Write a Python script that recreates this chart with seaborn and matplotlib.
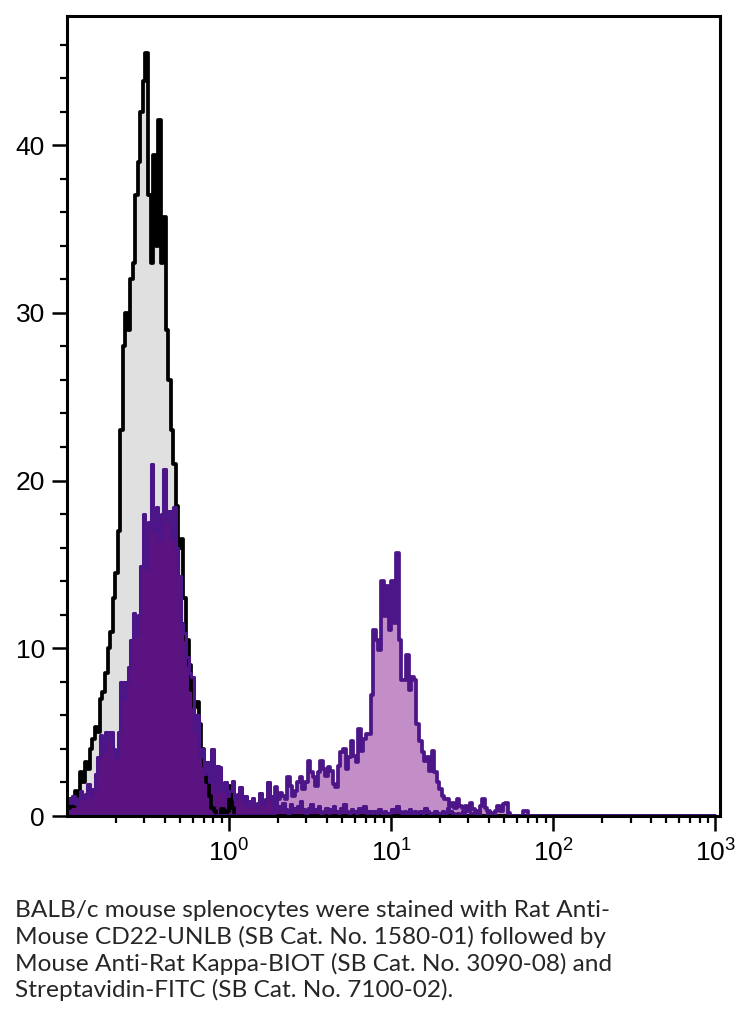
import numpy as np
import seaborn as sns
import matplotlib.pyplot as plt
from matplotlib.ticker import MultipleLocator, LogLocator, NullFormatter

# flow histogram, 256 channels over 4 decades (10^-1 .. 10^3)
n_channels = 256
per_decade = 64

# unstained / control (grey, black outline), from channel 0
control_counts = [
    0.5, 1.0, 0.6, 1.5, 1.2, 2.6, 2.0, 3.2, 2.8, 4.0,
    4.6, 5.3, 5.0, 7.0, 7.4, 8.5, 10.0, 11.0, 13.0, 14.5,
    17.0, 23.0, 28.0, 30.0, 29.0, 32.0, 33.0, 37.0, 39.0, 42.0,
    43.8, 45.5, 37.0, 33.0, 39.4, 34.0, 41.5, 33.0, 35.7, 29.0,
    26.0, 23.0, 21.0, 18.5, 16.0, 16.5, 13.0, 10.5, 9.0, 7.5,
    6.5, 6.8, 5.5, 4.0, 3.0, 2.0, 1.2, 0.5, 0.3, 0.0,
    0.0, 0.4, 0.0, 0.3, 1.8, 0.5, 0.0,
]

# CD22 negative population (dark purple), from channel 0
neg_counts = [
    1.0, 0.8, 1.2, 0.7, 1.0, 1.5, 1.1, 1.3, 1.9, 1.2,
    1.6, 2.5, 3.5, 4.8, 3.8, 5.0, 4.6, 5.0, 4.0, 3.5,
    5.0, 8.0, 7.0, 8.0, 8.9, 10.5, 12.1, 10.8, 12.0, 14.9,
    18.0, 14.8, 17.5, 21.0, 17.0, 18.4, 16.5, 18.0, 20.7, 17.5,
    18.2, 16.5, 18.4, 16.0, 14.3, 11.5, 10.9, 9.5, 8.5, 8.3,
    5.0, 6.0, 3.5, 4.0, 2.5, 3.2, 2.0, 4.0, 1.5, 3.0,
    2.9, 1.5, 2.0, 1.2, 1.5, 2.1, 1.0, 1.3, 1.7, 0.8,
    1.2, 0.6, 0.9, 1.1, 0.5, 0.8, 1.4, 0.7, 1.0, 2.0,
    1.2, 0.8, 1.0, 0.6, 0.3, 0.8, 0.4, 0.2, 0.7, 0.5,
    0.3, 0.6, 0.9, 0.4, 0.2, 0.5, 0.7, 0.3, 0.4, 0.6,
    0.2, 0.3, 0.5, 0.2, 0.4, 0.6, 0.3, 0.2, 0.5, 0.7,
    0.3, 0.2, 0.4, 0.3, 0.2, 0.5, 0.3, 0.6, 0.2, 0.3,
    0.2, 0.3, 0.2, 0.4, 0.2, 0.3, 0.2, 0.2, 0.4, 0.3,
    0.6, 0.3, 0.2, 0.3, 0.2, 0.4, 0.2, 0.3, 0.2, 0.3,
    0.2, 0.5, 0.3, 0.2, 0.2, 0.3, 0.2, 0.2, 0.3, 0.2,
    0.5, 0.3, 0.2, 0.0, 0.2, 0.0, 0.3, 0.0, 0.0, 0.2,
    0.0, 0.0, 0.3, 0.0, 0.0, 0.0, 0.2, 0.0, 0.0, 0.0,
]

# CD22 positive population (light purple), from channel 82
pos_first = 82
pos_counts = [
    1.7, 1.0, 1.4, 1.2, 1.0, 2.3, 1.8, 1.2,
    1.5, 2.0, 2.3, 1.6, 2.0, 3.3, 2.6, 2.3, 1.8, 2.6,
    3.3, 2.8, 2.4, 2.9, 2.7, 1.9, 1.7, 3.0, 3.8, 4.0,
    2.8, 3.5, 4.5, 3.6, 3.2, 5.2, 3.9, 4.6, 4.9, 4.9,
    7.2, 11.1, 10.5, 9.9, 14.0, 11.9, 13.7, 11.1, 14.0, 11.5,
    15.7, 10.5, 8.1, 8.1, 9.6, 7.5, 8.3, 8.1, 5.5, 4.5,
    3.8, 3.3, 3.5, 2.7, 3.9, 2.6, 2.0, 1.6, 1.2, 1.0,
    1.0, 0.6, 0.8, 0.5, 1.0, 0.6, 0.5, 0.6, 0.3, 0.8,
    0.4, 0.2, 0.3, 0.6, 1.0, 0.5, 0.3, 0.2, 0.0, 0.3,
    0.6, 0.3, 0.7, 0.8, 0.2, 0.0, 0.0, 0.0, 0.0, 0.0,
    0.3, 0.3, 0.0,
]

caption = ("BALB/c mouse splenocytes were stained with Rat Anti-\n"
           "Mouse CD22-UNLB (SB Cat. No. 1580-01) followed by\n"
           "Mouse Anti-Rat Kappa-BIOT (SB Cat. No. 3090-08) and\n"
           "Streptavidin-FITC (SB Cat. No. 7100-02).")


def full(counts, first=0):
    out = np.zeros(n_channels)
    out[first:first + len(counts)] = counts
    return out


channel = np.arange(n_channels)
channel_x = 10 ** (-1 + (channel + 0.5) / per_decade)

control = full(control_counts)
neg = full(neg_counts)
pos = full(pos_counts, pos_first)

sns.set_style('ticks')
plt.rcParams['font.family'] = ['Liberation Sans', 'DejaVu Sans']
plt.rcParams['mathtext.default'] = 'regular'

fig = plt.figure(figsize=(7.48, 10.19), dpi=100)
ax = fig.add_axes([67 / 748, 1 - 816 / 1019, (720 - 67) / 748, (816 - 16) / 1019])

hist_kw = dict(x=channel_x, bins=n_channels, binrange=(-1, 3), log_scale=True,
               element='step', ax=ax)

sns.histplot(weights=control, fill=True, color='#e0e0e0', alpha=1, linewidth=0, **hist_kw)
sns.histplot(weights=pos, fill=True, color='#c38dc7', alpha=1, linewidth=0, **hist_kw)
sns.histplot(weights=neg, fill=True, color='#5a1380', alpha=1, linewidth=0, **hist_kw)
sns.histplot(weights=control, fill=False, color='black', linewidth=2.7, **hist_kw)
sns.histplot(weights=pos, fill=False, color='#4c1688', linewidth=2.7, **hist_kw)
sns.histplot(weights=neg, fill=False, color='#4c1688', linewidth=2.2, **hist_kw)

ax.set_xlim(0.1, 1070)
ax.set_ylim(0, 47.7)
ax.set_xlabel('')
ax.set_ylabel('')

ax.set_xticks([1, 10, 100, 1000])
ax.xaxis.set_minor_locator(LogLocator(base=10, subs=np.arange(2, 10)))
ax.xaxis.set_minor_formatter(NullFormatter())
ax.yaxis.set_major_locator(MultipleLocator(10))
ax.yaxis.set_minor_locator(MultipleLocator(2))

for side in ['left', 'right', 'top', 'bottom']:
    ax.spines[side].set_visible(True)
    ax.spines[side].set_linewidth(2.2)
    ax.spines[side].set_color('black')
    ax.spines[side].set_zorder(5)

ax.tick_params(which='major', direction='out', length=11, width=1.8,
               labelsize=19, color='black', labelcolor='black')
ax.tick_params(which='minor', direction='out', length=5, width=1.6, color='black')
ax.tick_params(axis='y', which='major', pad=5)
ax.tick_params(axis='x', which='major', pad=6)

fig.text(15 / 748, 1 - 900 / 1019, caption, ha='left', va='top',
         fontsize=17.6, family=['Lato', 'DejaVu Sans'], linespacing=1.26)

fig.savefig('out.png', dpi=100)
